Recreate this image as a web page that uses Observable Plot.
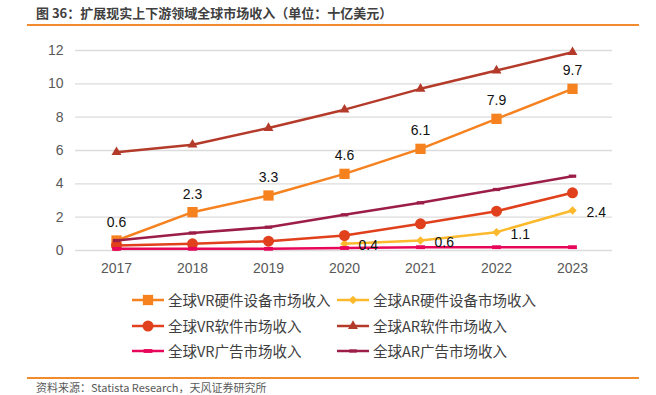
<!DOCTYPE html>
<html>
<head>
<meta charset="utf-8">
<script src="https://cdn.jsdelivr.net/npm/d3@7"></script>
<script src="https://cdn.jsdelivr.net/npm/@observablehq/plot@0.6"></script>
<style>
  html, body { margin: 0; padding: 0; background: #fff; }
  #page { position: relative; width: 656px; height: 395px; overflow: hidden; font-family: "Noto Sans CJK SC", "Liberation Sans", sans-serif; }
  #title { position: absolute; left: 36px; top: 4px; font-size: 13px; font-weight: bold; color: #404040; line-height: 18px; white-space: nowrap; }
  .hr { position: absolute; left: 27px; width: 612px; height: 2px; background: #F28A2E; }
  #chart { position: absolute; left: 0; top: 30px; }
  .leg { position: absolute; display: flex; align-items: center; font-size: 14.5px; color: #404040; white-space: nowrap; line-height: 18px; }
  .leg svg { margin-right: 4px; }
  #footer { position: absolute; left: 36px; top: 381px; font-size: 11px; color: #595959; white-space: nowrap; line-height: 13px; }
</style>
</head>
<body>
<div id="page">
  <div id="title">图 36：扩展现实上下游领域全球市场收入（单位：十亿美元）</div>
  <div class="hr" style="top:24px"></div>
  <div id="chart"></div>
  <div id="legend"></div>
  <div class="hr" style="top:377px"></div>
  <div id="footer">资料来源：Statista Research，天风证券研究所</div>
</div>
<script>
// ---- data ----
const years = [2017, 2018, 2019, 2020, 2021, 2022, 2023];
const vrHardware = [0.6, 2.3, 3.3, 4.6, 6.1, 7.9, 9.7];
const arHardwareYears = [2020, 2021, 2022, 2023];
const arHardware = [0.4, 0.6, 1.1, 2.4];
const vrSoftware = [0.3, 0.4, 0.56, 0.9, 1.6, 2.36, 3.46];
const arSoftware = [5.9, 6.35, 7.35, 8.45, 9.7, 10.8, 11.9];
const vrAds = [0.1, 0.1, 0.1, 0.15, 0.2, 0.2, 0.2];
const arAds = [0.6, 1.05, 1.4, 2.14, 2.86, 3.66, 4.46];
const yTicks = [0, 2, 4, 6, 8, 10, 12];
const seriesNames = ["全球VR硬件设备市场收入", "全球AR硬件设备市场收入", "全球VR软件市场收入", "全球AR软件市场收入", "全球VR广告市场收入", "全球AR广告市场收入"];

// ---- styling ----
const dash = { draw(ctx, size) { const w = Math.sqrt(size); ctx.rect(-w * 0.62, -w * 0.27, w * 1.24, w * 0.54); } };
const styles = [
  { color: "#F5821F", symbol: "square", r: 5.8 },
  { color: "#FDB92D", symbol: "diamond2", r: 3.8 },
  { color: "#E0401C", symbol: "circle", r: 5.5 },
  { color: "#B43A2A", symbol: "triangle", r: 3.7 },
  { color: "#E8065A", symbol: dash, r: 4 },
  { color: "#9B1D48", symbol: dash, r: 3.4 }
];

const toRows = (xs, ys) => xs.map((x, i) => ({ x, y: ys[i] }));
const series = [
  toRows(years, vrHardware),
  toRows(arHardwareYears, arHardware),
  toRows(years, vrSoftware),
  toRows(years, arSoftware),
  toRows(years, vrAds),
  toRows(years, arAds)
];

const marks = [Plot.ruleY(yTicks, { stroke: "#dcdcdc", strokeWidth: 1.3 })];
series.forEach((rows, i) => {
  const s = styles[i];
  marks.push(Plot.line(rows, { x: "x", y: "y", stroke: s.color, strokeWidth: 2.5 }));
  marks.push(Plot.dot(rows, { x: "x", y: "y", symbol: () => s.symbol, fill: s.color, r: s.r, stroke: "none" }));
});
marks.push(Plot.text(series[0], { x: "x", y: "y", text: d => d.y.toFixed(1), dy: -18, fontSize: 14, fill: "#111" }));
marks.push(Plot.text(series[1], { x: "x", y: "y", text: d => d.y.toFixed(1), dx: 14, dy: 2, textAnchor: "start", fontSize: 14, fill: "#111" }));
marks.push(Plot.axisX({ tickSize: 0, tickPadding: 13, fontSize: 14, tickFormat: d => String(d), fill: "#595959" }));
marks.push(Plot.axisY({ ticks: yTicks, tickSize: 0, tickPadding: 12, fontSize: 14, fill: "#595959" }));

const chart = Plot.plot({
  width: 656,
  height: 250,
  marginLeft: 75,
  marginRight: 44,
  marginTop: 20,
  marginBottom: 30,
  style: { fontFamily: "'Liberation Sans', Arial, sans-serif", background: "transparent", color: "#595959" },
  x: { type: "point", domain: years, padding: 0.5, label: null },
  y: { domain: [0, 12], label: null },
  marks
});
document.getElementById("chart").appendChild(chart);

// ---- legend ----
const legPos = [
  { x: 132, y: 300, tx: 168 }, { x: 337, y: 300, tx: 373 },
  { x: 132, y: 326, tx: 168 }, { x: 337, y: 326, tx: 373 },
  { x: 132, y: 351, tx: 168 }, { x: 337, y: 351, tx: 373 }
];
const legend = document.getElementById("legend");
seriesNames.forEach((name, i) => {
  const p = legPos[i], s = styles[i];
  const div = document.createElement("div");
  div.className = "leg";
  div.style.left = p.x + "px";
  div.style.top = (p.y - 9) + "px";
  const sym = d3.symbol().type(typeof s.symbol === "string" ? ({square: d3.symbolSquare, diamond2: d3.symbolDiamond2, circle: d3.symbolCircle, triangle: d3.symbolTriangle})[s.symbol] : s.symbol).size(Math.PI * s.r * s.r)();
  const w = p.tx - p.x - 4;
  div.innerHTML = `<svg width="${w}" height="18"><line x1="0" x2="${w}" y1="9" y2="9" stroke="${s.color}" stroke-width="2.5"/><path transform="translate(${w/2},9)" d="${sym}" fill="${s.color}"/></svg><span>${name}</span>`;
  legend.appendChild(div);
});
</script>
</body>
</html>
